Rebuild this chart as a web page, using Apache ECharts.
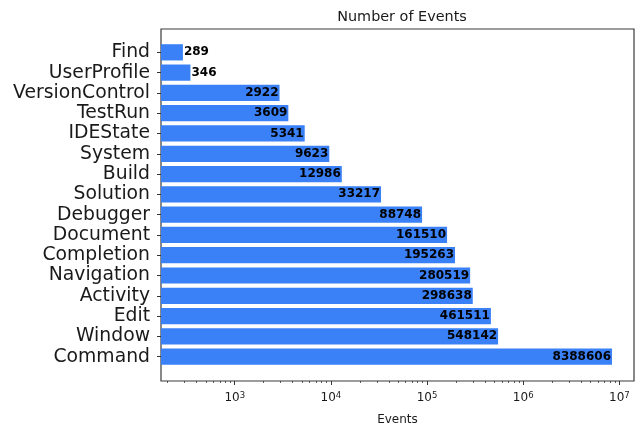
<!DOCTYPE html>
<html><head><meta charset="utf-8">
<script src="https://cdn.jsdelivr.net/npm/echarts@6/dist/echarts.min.js"></script>
<style>html,body{margin:0;padding:0;background:#fff}#c{width:641px;height:427px}</style>
</head><body><div id="c"></div>
<script>
const categories = ['Find','UserProfile','VersionControl','TestRun','IDEState','System','Build','Solution','Debugger','Document','Completion','Navigation','Activity','Edit','Window','Command'];
const events = [289,346,2922,3609,5341,9623,12986,33217,88748,161510,195263,280519,298638,461511,548142,8388606];
const majorTicks = [1e3,1e4,1e5,1e6,1e7];
const minorTicks = [200,300,400,500,600,700,800,900,
  2000,3000,4000,5000,6000,7000,8000,9000,
  20000,30000,40000,50000,60000,70000,80000,90000,
  200000,300000,400000,500000,600000,700000,800000,900000,
  2000000,3000000,4000000,5000000,6000000,7000000,8000000,9000000];
const catTicks = categories.map((c,i)=>i);

const X_MIN = 171, X_MAX = 1.42e7;
const BAR_COLOR = '#3a80f6';
const FONT = '"DejaVu Sans", sans-serif';

const chart = echarts.init(document.getElementById('c'), null, {renderer:'canvas'});
chart.setOption({
  animation:false,
  backgroundColor:'#fff',
  title:{text:'Number of Events', left:397, textAlign:'center', top:5,
    textStyle:{fontFamily:FONT, fontSize:14.4, fontWeight:'normal', color:'#1a1a1a'}},
  grid:{left:161, right:7, top:29, bottom:46, show:true, borderColor:'#3a3a3a', borderWidth:1.2,
    backgroundColor:'transparent', containLabel:false, outerBoundsMode:'none'},
  xAxis:[{
    type:'log', min:X_MIN, max:X_MAX, logBase:10, position:'bottom',
    name:'Events', nameLocation:'middle', nameGap:33,
    nameTextStyle:{fontFamily:FONT, fontSize:12, color:'#1a1a1a'},
    axisLine:{show:false, onZero:false},
    splitLine:{show:false},
    axisTick:{show:true, length:4, customValues:majorTicks, lineStyle:{color:'#333', width:1}},
    axisLabel:{customValues:majorTicks, margin:10, fontFamily:FONT, fontSize:12, color:'#1a1a1a',
      formatter:function(v){return '10{s|'+Math.round(Math.log10(v))+'}';},
      rich:{s:{fontFamily:FONT, fontSize:8.5, color:'#1a1a1a', verticalAlign:'top', padding:[0,0,5,0]}}}
  },{
    type:'log', min:X_MIN, max:X_MAX, logBase:10, position:'bottom',
    axisLine:{show:false, onZero:false}, splitLine:{show:false}, axisLabel:{show:false},
    axisTick:{show:true, length:2, customValues:minorTicks, lineStyle:{color:'#333', width:0.8}}
  }],
  yAxis:{
    type:'value', inverse:true, min:-1.15, max:16.2,
    axisLine:{show:false, onZero:false}, splitLine:{show:false},
    axisTick:{show:true, length:4, customValues:catTicks, lineStyle:{color:'#333'}},
    axisLabel:{customValues:catTicks, margin:11, fontFamily:FONT, fontSize:18.8, color:'#1a1a1a',
      formatter:function(v){return categories[Math.round(v)] || '';}}
  },
  series:[{
    type:'custom',
    xAxisIndex:0, yAxisIndex:0,
    clip:true,
    encode:{x:0, y:1},
    data: events.map(function(v,i){return [v,i];}),
    renderItem:function(params, api){
      const v = api.value(0), idx = api.value(1);
      const x0 = api.coord([X_MIN, idx])[0];
      const p1 = api.coord([v, idx-0.4]);
      const p2 = api.coord([v, idx+0.4]);
      const top = Math.min(p1[1],p2[1]), h = Math.abs(p2[1]-p1[1]);
      const w = p1[0]-x0;
      const inside = w >= 50;
      return {type:'group', children:[
        {type:'rect', shape:{x:x0, y:top, width:w, height:h}, style:{fill:BAR_COLOR}},
        {type:'text', x:p1[0] + (inside ? -1 : 1), y:(p1[1]+p2[1])/2,
          style:{text:String(v), align:inside?'right':'left', verticalAlign:'middle',
            font:'bold 12px '+FONT, fill:'#000'}}
      ]};
    }
  }]
});
</script></body></html>
